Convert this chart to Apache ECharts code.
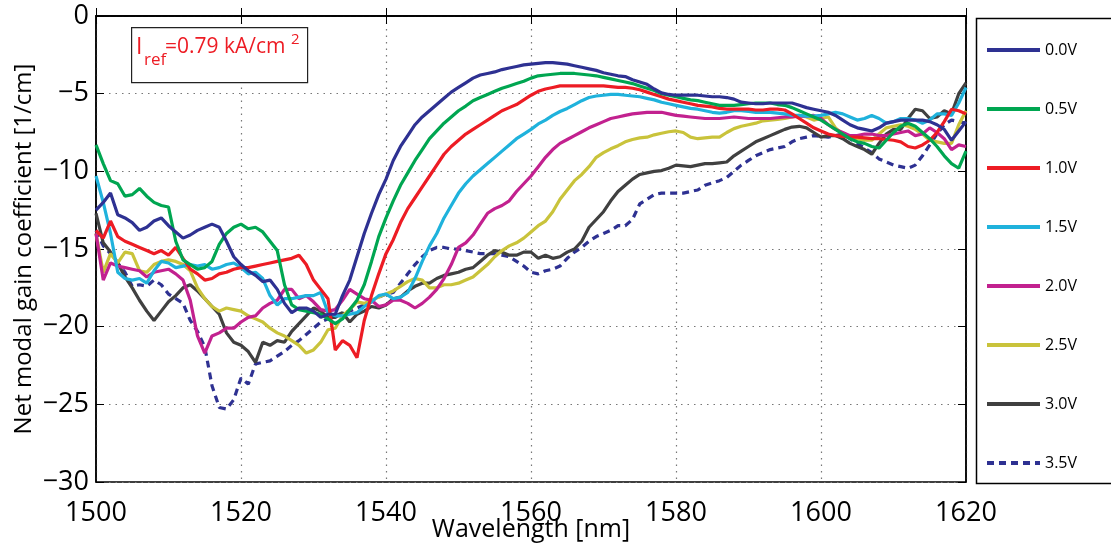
<!DOCTYPE html>
<html>
<head>
<meta charset="utf-8">
<script src="https://cdn.jsdelivr.net/npm/echarts@6/dist/echarts.min.js"></script>
<style>
html,body{margin:0;padding:0;background:#fff;}
#chart{width:1111px;height:545px;}
</style>
</head>
<body>
<div id="chart"></div>
<script>
// Wavelength samples [nm]
const wavelength = [
1500,1501,1502,1503,1504,1505,1506,1507,1508,1509,1510,1511,1512,1513,1514,1515,1516,1517,1518,1519,
1520,1521,1522,1523,1524,1525,1526,1527,1528,1529,1530,1531,1532,1533,1534,1535,1536,1537,1538,1539,
1540,1541,1542,1543,1544,1545,1546,1547,1548,1549,1550,1551,1552,1553,1554,1555,1556,1557,1558,1559,
1560,1561,1562,1563,1564,1565,1566,1567,1568,1569,1570,1571,1572,1573,1574,1575,1576,1577,1578,1579,
1580,1581,1582,1583,1584,1585,1586,1587,1588,1589,1590,1591,1592,1593,1594,1595,1596,1597,1598,1599,
1600,1601,1602,1603,1604,1605,1606,1607,1608,1609,1610,1611,1612,1613,1614,1615,1616,1617,1618,1619,1620];

const seriesNames = ['0.0V','0.5V','1.0V','1.5V','2.0V','2.5V','3.0V','3.5V'];
const xTicks = [1500,1520,1540,1560,1580,1600,1620];
const yTicks = [0,-5,-10,-15,-20,-25,-30];

const g00 = [
-12.5,-12.0,-11.4,-12.8,-13.0,-13.3,-13.8,-13.6,-13.2,-13.0,-13.5,-13.9,-14.3,-14.1,-13.8,-13.6,-13.4,-13.6,-14.5,-15.5,
-16.0,-16.4,-16.7,-17.1,-17.0,-17.6,-18.5,-19.1,-18.8,-18.8,-19.0,-19.4,-19.2,-19.2,-18.0,-17.0,-15.5,-14.0,-12.7,-11.5,
-10.5,-9.3,-8.4,-7.7,-7.0,-6.5,-6.1,-5.7,-5.3,-4.9,-4.6,-4.3,-4.0,-3.8,-3.7,-3.6,-3.45,-3.35,-3.25,-3.15,
-3.1,-3.05,-3.0,-3.0,-3.05,-3.1,-3.2,-3.3,-3.4,-3.5,-3.65,-3.75,-3.85,-3.9,-4.1,-4.25,-4.4,-4.7,-4.95,-5.05,
-5.1,-5.1,-5.1,-5.1,-5.15,-5.2,-5.2,-5.25,-5.35,-5.55,-5.6,-5.65,-5.65,-5.6,-5.6,-5.6,-5.6,-5.75,-5.9,-6.0,
-6.1,-6.2,-6.4,-6.7,-7.0,-7.2,-7.3,-7.4,-7.2,-6.9,-6.8,-6.7,-6.7,-6.7,-6.7,-6.8,-7.0,-7.3,-8.0,-7.4,-6.8];

const g05 = [
-8.3,-9.5,-10.6,-10.8,-11.6,-11.5,-11.1,-11.6,-12.0,-12.2,-12.3,-14.5,-15.7,-16.0,-16.3,-16.2,-15.8,-14.7,-14.0,-13.6,
-13.4,-13.7,-13.6,-13.9,-14.5,-15.1,-17.3,-18.6,-18.9,-19.0,-19.1,-19.2,-19.5,-19.8,-19.5,-18.9,-18.3,-17.3,-15.8,-14.2,
-13.0,-11.9,-10.9,-10.1,-9.3,-8.6,-7.9,-7.4,-6.9,-6.5,-6.1,-5.8,-5.45,-5.25,-5.05,-4.85,-4.65,-4.5,-4.35,-4.2,
-4.0,-3.85,-3.8,-3.75,-3.7,-3.7,-3.7,-3.75,-3.8,-3.85,-3.95,-4.05,-4.15,-4.25,-4.35,-4.5,-4.65,-4.8,-5.0,-5.1,
-5.2,-5.3,-5.4,-5.45,-5.55,-5.65,-5.75,-5.75,-5.75,-5.7,-5.65,-5.6,-5.6,-5.6,-5.7,-5.75,-5.9,-6.1,-6.3,-6.5,
-6.7,-7.0,-7.3,-7.6,-7.9,-8.1,-8.2,-8.4,-8.5,-8.0,-7.5,-7.1,-6.9,-7.1,-7.5,-7.9,-8.4,-9.0,-9.5,-9.8,-8.7];

const g10 = [
-13.8,-14.3,-13.2,-14.2,-14.5,-14.7,-14.9,-15.1,-15.3,-15.1,-15.4,-14.9,-15.6,-16.3,-16.6,-17.0,-16.9,-16.6,-16.5,-16.3,
-16.2,-16.2,-16.1,-16.0,-15.9,-15.8,-15.7,-15.6,-15.4,-16.0,-17.0,-17.6,-18.2,-21.5,-20.9,-21.2,-22.0,-19.6,-18.0,-16.6,
-15.3,-14.4,-13.3,-12.4,-11.7,-11.0,-10.3,-9.6,-8.9,-8.4,-8.0,-7.6,-7.3,-7.0,-6.7,-6.4,-6.1,-5.9,-5.7,-5.4,
-5.1,-4.85,-4.7,-4.6,-4.5,-4.5,-4.5,-4.5,-4.5,-4.5,-4.5,-4.55,-4.6,-4.6,-4.65,-4.75,-4.9,-5.05,-5.2,-5.35,
-5.45,-5.55,-5.65,-5.75,-5.8,-5.85,-5.95,-6.0,-6.0,-6.0,-6.0,-6.05,-6.05,-6.0,-6.0,-6.05,-6.3,-6.6,-6.9,-7.2,
-7.4,-7.6,-7.7,-7.75,-7.8,-7.8,-7.85,-7.9,-7.9,-7.95,-8.0,-8.1,-8.4,-8.5,-8.3,-8.0,-7.5,-6.8,-6.0,-6.1,-6.3];

const g15 = [
-10.3,-12.0,-14.0,-16.5,-16.9,-17.0,-16.9,-17.2,-16.4,-15.8,-15.9,-16.2,-16.1,-16.0,-16.1,-16.0,-16.3,-16.2,-16.0,-15.9,
-16.2,-16.6,-16.5,-16.9,-18.0,-18.6,-18.2,-18.2,-18.1,-18.0,-18.0,-17.8,-19.1,-19.3,-19.3,-19.2,-19.1,-18.7,-18.4,-18.0,
-17.9,-18.2,-18.1,-17.8,-16.9,-15.8,-14.8,-14.0,-13.0,-12.2,-11.4,-10.8,-10.3,-9.9,-9.5,-9.1,-8.7,-8.3,-7.9,-7.6,
-7.3,-6.95,-6.7,-6.4,-6.15,-5.95,-5.7,-5.45,-5.25,-5.15,-5.1,-5.05,-5.05,-5.1,-5.15,-5.2,-5.3,-5.4,-5.55,-5.65,
-5.75,-5.85,-5.95,-6.0,-6.1,-6.2,-6.25,-6.2,-6.1,-6.1,-6.15,-6.2,-6.2,-6.2,-6.25,-6.3,-6.4,-6.4,-6.45,-6.45,
-6.4,-6.3,-6.2,-6.3,-6.5,-6.7,-6.6,-6.4,-6.6,-6.9,-6.8,-6.6,-6.6,-6.7,-6.9,-6.7,-6.3,-6.3,-6.4,-5.6,-4.6];

const g20 = [
-14.0,-17.0,-15.9,-16.1,-16.2,-16.3,-16.4,-16.8,-16.5,-16.4,-16.3,-16.6,-17.0,-18.3,-20.6,-21.7,-20.6,-20.4,-20.1,-20.1,
-19.7,-19.4,-19.3,-18.8,-18.5,-18.3,-17.6,-17.6,-18.2,-18.0,-18.4,-18.9,-19.0,-18.9,-18.3,-17.6,-17.9,-18.2,-18.3,-18.7,
-18.6,-18.3,-18.3,-18.5,-18.8,-18.5,-18.1,-17.6,-16.9,-16.0,-14.9,-14.6,-14.1,-13.4,-12.7,-12.4,-12.2,-11.9,-11.3,-10.8,
-10.3,-9.7,-9.1,-8.6,-8.2,-7.95,-7.7,-7.45,-7.2,-7.0,-6.8,-6.6,-6.5,-6.4,-6.3,-6.25,-6.2,-6.2,-6.2,-6.3,
-6.4,-6.45,-6.5,-6.55,-6.6,-6.6,-6.6,-6.55,-6.5,-6.55,-6.6,-6.6,-6.6,-6.6,-6.55,-6.5,-6.5,-6.45,-6.45,-6.4,
-6.6,-7.0,-7.3,-7.5,-7.7,-7.7,-7.6,-7.6,-7.7,-7.7,-7.6,-7.5,-7.4,-7.7,-7.6,-7.2,-7.5,-7.9,-8.6,-8.3,-8.4];

const g25 = [
-14.0,-16.5,-15.3,-15.9,-15.2,-15.3,-16.4,-16.5,-16.0,-15.8,-15.7,-15.8,-16.0,-16.4,-17.5,-18.2,-18.7,-19.0,-18.8,-18.9,
-19.0,-19.3,-19.5,-19.7,-20.1,-20.4,-20.6,-20.9,-21.2,-21.7,-21.5,-21.0,-20.2,-20.1,-19.3,-18.9,-18.4,-18.5,-18.3,-18.1,
-17.9,-17.7,-17.4,-17.1,-16.9,-17.0,-17.5,-17.5,-17.3,-17.3,-17.2,-17.0,-16.8,-16.4,-16.0,-15.5,-15.1,-14.8,-14.6,-14.3,
-13.9,-13.5,-13.2,-12.6,-11.8,-11.2,-10.6,-10.2,-9.7,-9.1,-8.8,-8.55,-8.35,-8.1,-7.95,-7.85,-7.8,-7.65,-7.55,-7.45,
-7.4,-7.5,-7.8,-7.9,-7.85,-7.8,-7.8,-7.5,-7.25,-7.1,-7.0,-6.9,-6.75,-6.7,-6.65,-6.6,-6.5,-6.4,-6.5,-6.7,
-6.6,-6.5,-7.2,-7.6,-7.8,-7.9,-8.0,-8.0,-7.6,-7.2,-7.1,-7.0,-7.1,-7.3,-7.6,-8.0,-8.1,-8.2,-8.2,-7.0,-6.1];

const g30 = [
-12.7,-14.6,-15.2,-15.9,-16.8,-17.5,-18.3,-19.0,-19.6,-19.0,-18.4,-18.0,-17.5,-17.3,-17.7,-18.2,-18.7,-19.2,-20.4,-21.0,
-21.2,-21.6,-22.3,-21.0,-21.2,-20.9,-21.0,-20.3,-19.8,-19.3,-18.8,-19.0,-19.4,-19.4,-19.1,-19.7,-19.2,-19.0,-18.7,-18.8,
-18.6,-18.2,-18.1,-17.7,-17.4,-17.2,-17.2,-16.9,-16.7,-16.6,-16.5,-16.3,-16.2,-15.8,-15.4,-15.1,-15.2,-15.4,-15.4,-15.2,
-15.2,-15.6,-15.4,-15.6,-15.5,-15.2,-15.0,-14.5,-13.6,-13.1,-12.6,-11.9,-11.3,-10.9,-10.5,-10.2,-10.1,-10.0,-9.95,-9.8,
-9.6,-9.65,-9.7,-9.6,-9.5,-9.5,-9.45,-9.4,-9.0,-8.7,-8.4,-8.1,-7.9,-7.7,-7.5,-7.3,-7.15,-7.1,-7.2,-7.5,
-7.8,-7.7,-7.7,-7.9,-8.2,-8.4,-8.6,-8.9,-8.2,-7.6,-7.3,-7.3,-6.6,-6.0,-6.1,-6.6,-6.5,-6.1,-6.3,-5.0,-4.3];

const g35 = [
-13.8,-14.8,-15.3,-15.9,-16.5,-17.4,-17.3,-17.4,-17.0,-17.3,-17.9,-18.2,-18.5,-19.6,-20.3,-21.3,-23.8,-25.2,-25.3,-24.7,
-23.3,-23.7,-22.4,-22.3,-22.2,-21.9,-21.6,-21.2,-20.9,-20.5,-20.1,-19.7,-19.5,-19.3,-19.1,-19.0,-18.8,-18.6,-18.4,-18.1,
-17.9,-17.8,-17.2,-16.6,-16.0,-15.5,-15.1,-14.9,-14.9,-15.0,-15.0,-15.1,-15.2,-15.3,-15.3,-15.3,-15.4,-15.5,-15.8,-16.1,
-16.5,-16.6,-16.4,-16.3,-16.1,-15.6,-15.2,-14.9,-14.5,-14.2,-14.0,-13.8,-13.5,-13.5,-13.1,-12.1,-11.8,-11.5,-11.4,-11.4,
-11.4,-11.4,-11.3,-11.2,-10.9,-10.75,-10.6,-10.4,-10.0,-9.6,-9.3,-9.0,-8.8,-8.6,-8.5,-8.4,-8.1,-7.9,-7.8,-7.7,
-7.75,-7.8,-7.7,-7.6,-7.9,-8.2,-8.5,-8.8,-9.2,-9.4,-9.6,-9.7,-9.8,-9.6,-9.0,-8.3,-7.6,-7.0,-6.7,-6.8,-6.9];

const seriesValues = [g00, g05, g10, g15, g20, g25, g30, g35];
const seriesColors = ['#2E3192','#00A651','#ED1C24','#1FB2DC','#C2218F','#C9C33B','#404040','#2E3192'];

const chart = echarts.init(document.getElementById('chart'), null, {renderer: 'canvas'});
const FONT = '"Open Sans", "DejaVu Sans", sans-serif';
const minus = v => String(v).replace('-', '\u2212');

const series = seriesNames.map((name, k) => ({
  name: name,
  type: 'line',
  data: wavelength.map((w, i) => [w, seriesValues[k][i]]),
  symbol: 'none',
  showSymbol: false,
  smooth: false,
  clip: true,
  lineStyle: {
    color: seriesColors[k],
    width: 3.2,
    type: k === 7 ? [7, 5] : 'solid'
  },
  itemStyle: {color: seriesColors[k]},
  z: 10 - k,
  animation: false
}));

const axisLabelStyle = {fontFamily: FONT, fontSize: 27, color: '#000'};

const option = {
  animation: false,
  backgroundColor: '#fff',
  grid: {left: 96, top: 16, width: 870, height: 466, show: true,
         outerBoundsMode: 'none', containLabel: false,
         borderColor: '#000', borderWidth: 1.5, backgroundColor: 'transparent'},
  xAxis: [{
    type: 'value', min: xTicks[0], max: xTicks[xTicks.length - 1], interval: 20,
    position: 'bottom',
    name: 'Wavelength [nm]', nameLocation: 'middle', nameGap: 35,
    nameMoveOverlap: false,
    nameTextStyle: {fontFamily: FONT, fontSize: 25, color: '#000'},
    axisLine: {show: true, lineStyle: {color: '#000', width: 1.5}},
    axisTick: {show: true, inside: true, length: 8, lineStyle: {color: '#000', width: 1}},
    axisLabel: Object.assign({margin: 18, formatter: v => String(v)}, axisLabelStyle),
    splitLine: {show: true, lineStyle: {color: '#777', type: [1.5, 5], width: 1.2}}
  }, {
    type: 'value', min: xTicks[0], max: xTicks[xTicks.length - 1], interval: 20,
    position: 'top',
    axisLine: {show: true, lineStyle: {color: '#000', width: 1.5}},
    axisTick: {show: true, inside: true, length: 8, lineStyle: {color: '#000', width: 1}},
    axisLabel: {show: false}, splitLine: {show: false}
  }],
  yAxis: [{
    type: 'value', min: yTicks[yTicks.length - 1], max: yTicks[0], interval: 5,
    position: 'left',
    name: 'Net modal gain coefficient [1/cm]', nameLocation: 'middle', nameGap: 60,
    nameMoveOverlap: false,
    nameTextStyle: {fontFamily: FONT, fontSize: 24, color: '#000'},
    axisLine: {show: true, lineStyle: {color: '#000', width: 1.5}},
    axisTick: {show: true, inside: true, length: 8, lineStyle: {color: '#000', width: 1}},
    axisLabel: Object.assign({margin: 7, formatter: minus}, axisLabelStyle),
    splitLine: {show: true, lineStyle: {color: '#777', type: [1.5, 5], width: 1.2}}
  }, {
    type: 'value', min: yTicks[yTicks.length - 1], max: yTicks[0], interval: 5,
    position: 'right',
    axisLine: {show: true, lineStyle: {color: '#000', width: 1.5}},
    axisTick: {show: true, inside: true, length: 8, lineStyle: {color: '#000', width: 1}},
    axisLabel: {show: false}, splitLine: {show: false}
  }],
  legend: {
    orient: 'vertical', left: 985, top: 42, padding: 0,
    itemWidth: 53, itemHeight: 14, itemGap: 43,
    itemStyle: {opacity: 0},
    lineStyle: {width: 4},
    textStyle: {fontFamily: FONT, fontSize: 16, color: '#000'},
    data: seriesNames,
    selectedMode: false
  },
  graphic: [
    {type: 'rect', left: 974, top: 16, shape: {width: 136, height: 465},
     style: {fill: 'none', stroke: '#000', lineWidth: 1.5}, silent: true},
    {type: 'rect', left: 131, top: 27, shape: {width: 176, height: 55},
     style: {fill: '#fff', stroke: '#222', lineWidth: 1.2}, silent: true, z: 100},
    {type: 'text', left: 136, top: 36, z: 101,
     style: {text: 'I', fontFamily: FONT, fontSize: 23, fill: '#ED1C24'}},
    {type: 'text', left: 144, top: 52, z: 101,
     style: {text: 'ref', fontFamily: FONT, fontSize: 17, fill: '#ED1C24'}},
    {type: 'text', left: 165, top: 37, z: 101,
     style: {text: '=0.79 kA/cm', fontFamily: FONT, fontSize: 21, fill: '#ED1C24'}},
    {type: 'text', left: 291, top: 32, z: 101,
     style: {text: '2', fontFamily: FONT, fontSize: 15, fill: '#ED1C24'}}
  ],
  series: series
};
chart.setOption(option);
</script>
</body>
</html>
